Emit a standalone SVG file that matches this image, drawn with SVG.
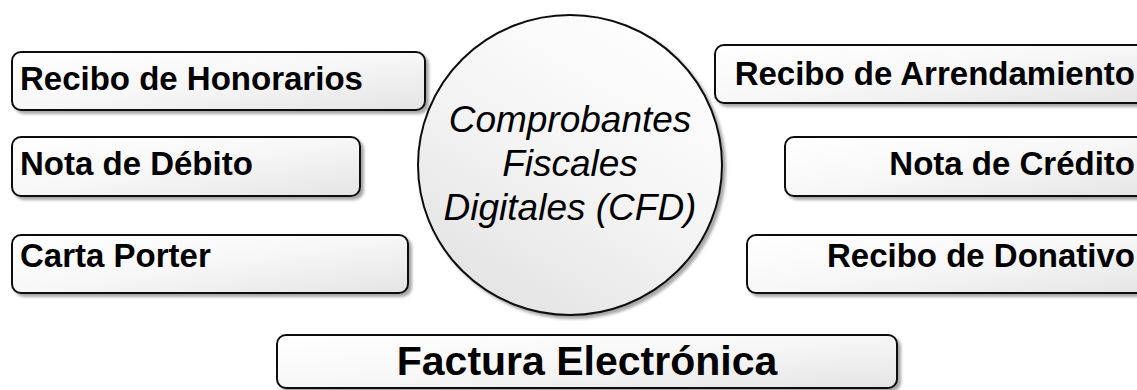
<svg xmlns="http://www.w3.org/2000/svg" width="1137" height="390" viewBox="0 0 1137 390">
  <defs>
    <linearGradient id="boxGrad" x1="0" y1="0" x2="1" y2="1">
      <stop offset="0" stop-color="#ffffff"/>
      <stop offset="0.5" stop-color="#f7f7f7"/>
      <stop offset="1" stop-color="#e4e4e4"/>
    </linearGradient>
    <linearGradient id="circGrad" x1="0.8" y1="0" x2="0.2" y2="1">
      <stop offset="0" stop-color="#ffffff"/>
      <stop offset="0.5" stop-color="#f4f4f4"/>
      <stop offset="1" stop-color="#e2e2e2"/>
    </linearGradient>
    <filter id="shadow" x="-5%" y="-10%" width="115%" height="130%">
      <feGaussianBlur in="SourceAlpha" stdDeviation="1.5"/>
      <feOffset dx="3" dy="3" result="b"/>
      <feComponentTransfer><feFuncA type="linear" slope="0.35"/></feComponentTransfer>
      <feMerge><feMergeNode/><feMergeNode in="SourceGraphic"/></feMerge>
    </filter>
  </defs>
  <style>
    .box { fill: url(#boxGrad); stroke: #111; stroke-width: 2; filter: url(#shadow); }
    .circ { fill: url(#circGrad); stroke: #111; stroke-width: 2; filter: url(#shadow); }
    .lbl { font-family: "Liberation Sans", Arial, sans-serif; font-weight: bold; font-size: 33px; fill: #000; }
    .big { font-family: "Liberation Sans", Arial, sans-serif; font-weight: bold; font-size: 41px; fill: #000; }
    .ctr { font-family: "Liberation Sans", Arial, sans-serif; font-style: italic; font-size: 37px; fill: #000; }
  </style>
  <rect width="1137" height="390" fill="#ffffff"/>
  <g id="connectors"/>
  <g id="cfd">
    <ellipse class="circ" cx="570" cy="165" rx="152" ry="150"/>
    <text class="ctr" x="570" text-anchor="middle"><tspan x="570" y="132">Comprobantes</tspan><tspan x="570" y="176">Fiscales</tspan><tspan x="570" y="220">Digitales (CFD)</tspan></text>
  </g>
  <g id="recibo-honorarios">
    <rect class="box" x="12" y="52" width="413" height="58" rx="9"/>
    <text class="lbl" x="20" y="90">Recibo de Honorarios</text>
  </g>
  <g id="nota-debito">
    <rect class="box" x="12" y="137" width="348" height="59" rx="9"/>
    <text class="lbl" x="20" y="175">Nota de Débito</text>
  </g>
  <g id="carta-porter">
    <rect class="box" x="12" y="235" width="396" height="58" rx="9"/>
    <text class="lbl" x="20" y="267">Carta Porter</text>
  </g>
  <g id="recibo-arrendamiento">
    <rect class="box" x="715" y="45" width="440" height="58" rx="9"/>
    <text class="lbl" x="1135" y="85" text-anchor="end">Recibo de Arrendamiento</text>
  </g>
  <g id="nota-credito">
    <rect class="box" x="785" y="137" width="370" height="59" rx="9"/>
    <text class="lbl" x="1135" y="175" text-anchor="end">Nota de Crédito</text>
  </g>
  <g id="recibo-donativo">
    <rect class="box" x="747" y="235" width="410" height="58" rx="9"/>
    <text class="lbl" x="1135" y="267" text-anchor="end">Recibo de Donativo</text>
  </g>
  <g id="factura">
    <rect class="box" x="277" y="335" width="620" height="53" rx="9"/>
    <text class="big" x="587" y="375" text-anchor="middle">Factura Electrónica</text>
  </g>
</svg>
